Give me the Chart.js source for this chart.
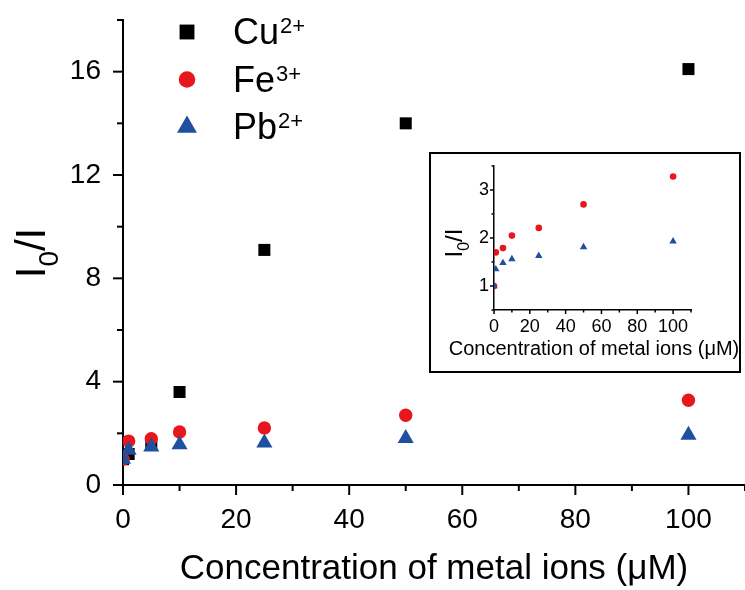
<!DOCTYPE html>
<html>
<head>
<meta charset="utf-8">
<script src="https://cdn.jsdelivr.net/npm/chart.js@4/dist/chart.umd.min.js"></script>
<style>
  html, body { margin: 0; padding: 0; background: #fff; }
  #wrap { position: relative; width: 745px; height: 590px; overflow: hidden; }
  #main { position: absolute; left: 0; top: 0; }
  #insetBox { position: absolute; left: 429px; top: 152px; width: 312px; height: 221px; box-sizing: border-box; border: 2px solid #000; background: #fff; }
  #inset { position: absolute; left: 429px; top: 152px; }
</style>
</head>
<body>
<div id="wrap">
  <canvas id="main" width="745" height="590"></canvas>
  <div id="insetBox"></div>
  <canvas id="inset" width="312" height="221"></canvas>
</div>
<script>
// ---------------- data ----------------
const concentrations = [0, 1, 5, 10, 25, 50, 100];
const cuValues = [1.0, 1.2, 1.6, 3.6, 9.1, 14.0, 16.1];
const feValues = [1.0, 1.70, 1.79, 2.05, 2.21, 2.70, 3.28];
const pbValues = [1.0, 1.35, 1.48, 1.56, 1.63, 1.81, 1.93];
const ionNames = ['Cu', 'Fe', 'Pb'];
const ionCharges = ['2+', '3+', '2+'];

const mainXTicks = [0, 20, 40, 60, 80, 100];
const mainXMinor = [10, 30, 50, 70, 90, 110];
const mainYTicks = [0, 4, 8, 12, 16];
const mainYMinor = [2, 6, 10, 14, 18];

const insetXTicks = [0, 20, 40, 60, 80, 100];
const insetXMinor = [10, 30, 50, 70, 90, 110];
const insetYTicks = [1, 2, 3];
const insetYMinor = [0.5, 1.5, 2.5, 3.5];

const xTitle = 'Concentration of metal ions (μM)';

// ---------------- styles ----------------
const FONT = '"Liberation Sans", Arial, Helvetica, sans-serif';
const BLACK = '#000000';
const RED = '#e8161d';
const BLUE = '#1f4f9f';

Chart.defaults.font.family = FONT;
Chart.defaults.color = '#000';

const pts = ys => concentrations.map((x, i) => ({ x: x, y: ys[i] }));

function drawMarker(ctx, style, r, x, y, color) {
  ctx.save();
  ctx.fillStyle = color;
  ctx.beginPath();
  if (style === 'rect') {
    const s = Math.SQRT1_2 * r;
    ctx.rect(x - s, y - s, 2 * s, 2 * s);
  } else if (style === 'circle') {
    ctx.arc(x, y, r, 0, Math.PI * 2);
  } else {
    const k = 2 * Math.PI / 3;
    let a = 0;
    ctx.moveTo(x + Math.sin(a) * r, y - Math.cos(a) * r);
    a += k; ctx.lineTo(x + Math.sin(a) * r, y - Math.cos(a) * r);
    a += k; ctx.lineTo(x + Math.sin(a) * r, y - Math.cos(a) * r);
    ctx.closePath();
  }
  ctx.fill();
  ctx.restore();
}

const axisDecor = {
  id: 'axisDecor',
  afterDraw(chart, args, o) {
    const ctx = chart.ctx, xs = chart.scales.x, ys = chart.scales.y, a = chart.chartArea;
    ctx.save();
    ctx.strokeStyle = '#000';
    ctx.lineWidth = o.tickWidth;
    const seg = (x1, y1, x2, y2) => { ctx.beginPath(); ctx.moveTo(x1, y1); ctx.lineTo(x2, y2); ctx.stroke(); };
    o.xMajor.forEach(v => { const p = xs.getPixelForValue(v); seg(p, a.bottom, p, a.bottom + o.majorLen); });
    o.xMinor.forEach(v => { const p = xs.getPixelForValue(v); seg(p, a.bottom, p, a.bottom + o.minorLen); });
    o.yMajor.forEach(v => { const p = ys.getPixelForValue(v); seg(a.left, p, a.left - o.majorLen, p); });
    o.yMinor.forEach(v => { const p = ys.getPixelForValue(v); seg(a.left, p, a.left - o.minorLen, p); });

    if (o.xTitle) {
      ctx.fillStyle = '#000';
      ctx.textAlign = 'center';
      ctx.textBaseline = 'middle';
      ctx.font = o.xTitle.size + 'px ' + FONT;
      ctx.fillText(o.xTitle.text, o.xTitle.x, o.xTitle.y);
    }

    const t = o.yTitle;
    ctx.translate(t.x, t.y);
    ctx.rotate(-Math.PI / 2);
    ctx.fillStyle = '#000';
    ctx.textAlign = 'left';
    ctx.textBaseline = 'alphabetic';
    ctx.font = t.big + 'px ' + FONT;
    const wI = ctx.measureText('I').width;
    const wSI = ctx.measureText('/I').width;
    ctx.font = t.small + 'px ' + FONT;
    const w0 = ctx.measureText('0').width;
    const total = wI + w0 + wSI + t.gap * 2;
    let px = -total / 2;
    ctx.font = t.big + 'px ' + FONT;
    ctx.fillText('I', px, 0);
    px += wI + t.gap;
    ctx.font = t.small + 'px ' + FONT;
    ctx.fillText('0', px, t.drop);
    px += w0 + t.gap;
    ctx.font = t.big + 'px ' + FONT;
    ctx.fillText('/I', px, 0);
    ctx.setTransform(1, 0, 0, 1, 0, 0);

    if (o.legend) {
      const L = o.legend;
      const ordered = [...chart.data.datasets].sort((p, q) => p.legendIndex - q.legendIndex);
      ordered.forEach((ds, i) => {
        const cy = L.y0 + i * L.dy;
        drawMarker(ctx, ds.pointStyle, L.radii[i], L.markerX, cy, ds.backgroundColor);
        ctx.fillStyle = '#000';
        ctx.textAlign = 'left';
        ctx.textBaseline = 'alphabetic';
        ctx.font = L.size + 'px ' + FONT;
        const base = ionNames[ds.legendIndex];
        ctx.fillText(base, L.textX, cy + L.baseOff);
        const bw = ctx.measureText(base).width;
        ctx.font = L.supSize + 'px ' + FONT;
        ctx.fillText(ionCharges[ds.legendIndex], L.textX + bw + 1, cy + L.baseOff - L.supRaise);
      });
    }
    ctx.restore();
  }
};

const zeroPadY = s => { s.paddingTop = 0; s.paddingBottom = 0; };
const zeroPadX = s => { s.paddingLeft = 0; s.paddingRight = 0; };

// ---------------- main chart ----------------
new Chart(document.getElementById('main'), {
  type: 'scatter',
  data: {
    datasets: [
      { label: 'Cu2+', data: pts(cuValues), pointStyle: 'rect', pointRadius: 8.5, backgroundColor: BLACK, borderWidth: 0, pointBorderWidth: 0, order: 2, legendIndex: 0 },
      { label: 'Fe3+', data: pts(feValues), pointStyle: 'circle', pointRadius: 6.7, backgroundColor: RED, borderWidth: 0, pointBorderWidth: 0, order: 1, legendIndex: 1 },
      { label: 'Pb2+', data: pts(pbValues), pointStyle: 'triangle', pointRadius: 9.3, backgroundColor: BLUE, borderWidth: 0, pointBorderWidth: 0, order: 0, legendIndex: 2 }
    ]
  },
  options: {
    responsive: false,
    animation: false,
    events: [],
    layout: { autoPadding: false, padding: { top: 20, right: 0, left: 0, bottom: 0 } },
    plugins: {
      legend: { display: false },
      tooltip: { enabled: false },
      axisDecor: {
        tickWidth: 2, majorLen: 10, minorLen: 6,
        xMajor: mainXTicks, xMinor: mainXMinor, yMajor: mainYTicks, yMinor: mainYMinor,
        yTitle: { x: 45, y: 253, big: 42, small: 28, drop: 13, gap: 0 },
        legend: { markerX: 187, y0: 32, dy: 47.5, radii: [10.5, 8.3, 11.5], textX: 233, size: 36, supSize: 22, baseOff: 12, supRaise: 11 }
      }
    },
    scales: {
      x: {
        type: 'linear', position: 'bottom', min: 0, max: 110,
        afterBuildTicks: s => { s.ticks = mainXTicks.map(v => ({ value: v })); },
        afterFit: s => { s.height = 105; zeroPadX(s); },
        ticks: { font: { size: 28 }, color: '#000', padding: 18, maxRotation: 0, autoSkip: false },
        grid: { display: false, drawTicks: false },
        border: { display: true, color: '#000', width: 2 },
        title: { display: true, text: xTitle, color: '#000', font: { size: 35 }, padding: { top: 0, bottom: 0 } }
      },
      y: {
        type: 'linear', position: 'left', min: 0, max: 18,
        afterBuildTicks: s => { s.ticks = mainYTicks.map(v => ({ value: v })); },
        afterFit: s => { s.width = 123; zeroPadY(s); },
        ticks: { font: { size: 28 }, color: '#000', padding: 22, autoSkip: false },
        grid: { display: false, drawTicks: false },
        border: { display: true, color: '#000', width: 2 }
      }
    }
  },
  plugins: [axisDecor]
});

// ---------------- inset chart ----------------
new Chart(document.getElementById('inset'), {
  type: 'scatter',
  data: {
    datasets: [
      { label: 'Fe3+', data: pts(feValues), pointStyle: 'circle', pointRadius: 3.3, backgroundColor: RED, borderWidth: 0, pointBorderWidth: 0, order: 1 },
      { label: 'Pb2+', data: pts(pbValues), pointStyle: 'triangle', pointRadius: 4.3, backgroundColor: BLUE, borderWidth: 0, pointBorderWidth: 0, order: 0 }
    ]
  },
  options: {
    responsive: false,
    animation: false,
    events: [],
    layout: { autoPadding: false, padding: { top: 14, right: 50, left: 0, bottom: 0 } },
    plugins: {
      legend: { display: false },
      tooltip: { enabled: false },
      axisDecor: {
        tickWidth: 1.5, majorLen: 4, minorLen: 2.5,
        xMajor: insetXTicks, xMinor: insetXMinor, yMajor: insetYTicks, yMinor: insetYMinor,
        xTitle: { text: xTitle, x: 165, y: 197, size: 20 },
        yTitle: { x: 33, y: 91, big: 24, small: 16, drop: 7, gap: 0 }
      }
    },
    scales: {
      x: {
        type: 'linear', position: 'bottom', min: 0, max: 110,
        afterBuildTicks: s => { s.ticks = insetXTicks.map(v => ({ value: v })); },
        afterFit: s => { s.height = 63; zeroPadX(s); },
        ticks: { font: { size: 18 }, color: '#000', padding: 6, maxRotation: 0, autoSkip: false },
        grid: { display: false, drawTicks: false },
        border: { display: true, color: '#000', width: 1.5 }
      },
      y: {
        type: 'linear', position: 'left', min: 0.5, max: 3.5,
        afterBuildTicks: s => { s.ticks = insetYTicks.map(v => ({ value: v })); },
        afterFit: s => { s.width = 65; zeroPadY(s); },
        ticks: { font: { size: 18 }, color: '#000', padding: 5, autoSkip: false },
        grid: { display: false, drawTicks: false },
        border: { display: true, color: '#000', width: 1.5 }
      }
    }
  },
  plugins: [axisDecor]
});
</script>
</body>
</html>
